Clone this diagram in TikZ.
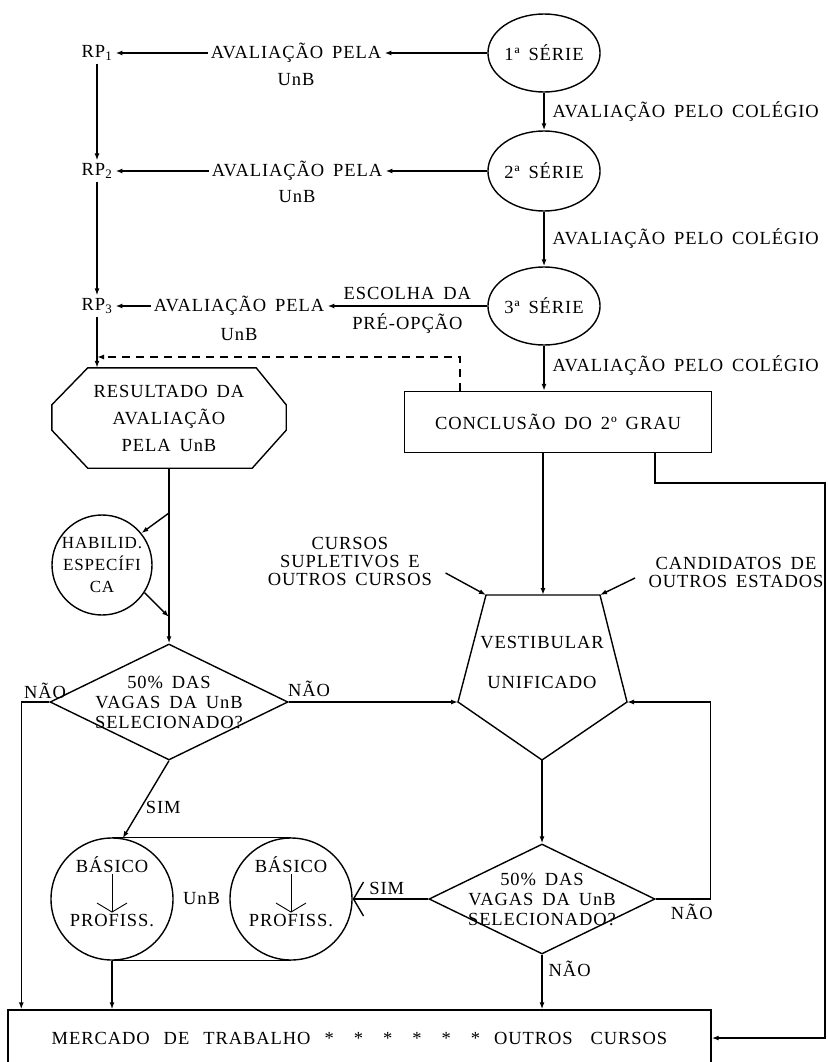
\documentclass[tikz,border=0pt]{standalone}
\usepackage{fontspec}
\setmainfont{Liberation Serif}[LetterSpace=5,WordSpace=1.6]
\usetikzlibrary{arrows.meta,positioning,calc,shapes.geometric}

\begin{document}
\begin{tikzpicture}[x=1pt,y=-1pt,
  every node/.style={font=\fontsize{18.5}{21}\selectfont},
  ed/.style={line width=1.4pt},
  arr/.style={ed,-{Latex[length=7pt,width=5pt]}},
  vee/.style={ed,-{Straight Barb[length=10pt,width=34pt]}},
  thinvee/.style={line width=0.9pt,-{Straight Barb[length=9pt,width=30pt]}},
  txt/.style={inner sep=3pt},
  lab/.style={inner sep=1pt},
  ser/.style={ellipse,draw,ed,minimum width=112pt,minimum height=78pt,inner sep=0pt},
  box/.style={rectangle,draw,ed,inner sep=0pt},
  oct/.style={rectangle,minimum width=234pt,minimum height=100pt,inner sep=0pt,
    align=center,font=\fontsize{18.5}{27}\selectfont},
  dia/.style={diamond,draw,ed,inner sep=0pt},
  circ/.style={circle,draw,ed,inner sep=0pt},
  ml/.style={align=center,font=\fontsize{18.5}{20}\selectfont}
]
\useasboundingbox (0,0) rectangle (827,1062);

% series and the UnB evaluation
\node[ser] (s1) at (544,53)  {1ª SÉRIE};
\node[ser,minimum width=110pt,minimum height=80pt] (s2) at (544,171) {2ª SÉRIE};
\node[ser] (s3) at (544,306) {3ª SÉRIE};
\node[txt] (rp1) at (97,53)  {RP\textsubscript{1}};
\node[txt] (rp2) at (97,171) {RP\textsubscript{2}};
\node[txt] (rp3) at (97,306) {RP\textsubscript{3}};
\node[txt] (av1) at (296,53)  {AVALIAÇÃO PELA};
\node[lab,below=6pt of av1] {UnB};
\node[txt] (av2) at (297,171) {AVALIAÇÃO PELA};
\node[lab,below=5pt of av2] {UnB};
\node[txt] (av3) at (239,306) {AVALIAÇÃO PELA};
\node[lab,below=8pt of av3] {UnB};
\draw[arr] (s1) -- (av1);
\draw[arr] (av1) -- (rp1);
\draw[arr] (s2) -- (av2);
\draw[arr] (av2) -- (rp2);
\draw[arr] (s3) -- node[lab,above=5pt]{ESCOLHA DA} node[lab,below=6pt]{PRÉ-OPÇÃO} (av3);
\draw[arr] (av3) -- (rp3);
\draw[arr] (rp1) -- (rp2);
\draw[arr] (rp2) -- (rp3);
\draw[arr] (s1) -- node[lab,right=7pt]{AVALIAÇÃO PELO COLÉGIO} (s2);
\draw[arr] (s2) -- node[lab,right=7pt]{AVALIAÇÃO PELO COLÉGIO} (s3);

% conclusion and result
\node[box,minimum width=307pt,minimum height=61pt] (conc) at (558,422) {CONCLUSÃO DO 2º GRAU};
\draw[arr] (s3) -- node[lab,right=7pt,yshift=3pt]{AVALIAÇÃO PELO COLÉGIO} (s3 |- conc.north);
\node[oct] (res) at (169,418) {RESULTADO DA\\AVALIAÇÃO\\PELA UnB};
\draw[ed] ($(res.north west)+(36,0)$) -- ($(res.north east)+(-30,0)$)
  -- ($(res.north east)+(0,37)$) -- ($(res.south east)+(0,-38)$)
  -- ($(res.south east)+(-34,0)$) -- ($(res.south west)+(36,0)$)
  -- ($(res.south west)+(0,-38)$) -- ($(res.north west)+(0,37)$) -- cycle;
\coordinate (dk) at (460,357);
\draw[arr,dash pattern=on 8pt off 6pt] (dk |- conc.north) -- (dk) -- (dk -| rp3);
\draw[arr] (rp3) -- (rp3 |- res.north);

% specific ability
\node[circ,minimum size=100pt,ml,font=\fontsize{17}{22}\selectfont] (hab) at (102,565) {HABILID.\\ESPECÍFI\\CA};
\coordinate (j1) at (169,513);
\coordinate (j2) at (169,617);
\node[dia,minimum width=238pt,minimum height=116pt] (d1) at (169,702) {};
\node[ml] at (d1) {50\% DAS\\VAGAS DA UnB\\SELECIONADO?};
\draw[arr] (res.south) -- (res.south |- d1.north);
\draw[arr] (j1) -- (hab.39);
\draw[arr] (hab.-33) -- (j2);

% vestibular
\coordinate (vtl) at (486,595);
\coordinate (vtr) at (600,595);
\coordinate (vr)  at (627,702);
\coordinate (vb)  at (542,760);
\coordinate (vl)  at (458,702);
\coordinate (vt)  at (543,595);
\draw[ed] (vtl) -- (vtr) -- (vr) -- (vb) -- (vl) -- cycle;
\node[ml,font=\fontsize{18.5}{40}\selectfont] at (542,662) {VESTIBULAR\\UNIFICADO};
\draw[arr] (conc.south -| vt) -- (vt);
\node[ml,font=\fontsize{18.5}{18}\selectfont] (cur) at (350,561) {CURSOS\\SUPLETIVOS E\\OUTROS CURSOS};
\node[ml,font=\fontsize{18.5}{18}\selectfont] (cand) at (736,572) {CANDIDATOS DE\\OUTROS ESTADOS};
\draw[arr] ([shift={(10,12)}]cur.east) -- (vtl);
\draw[arr] ([shift={(-10,6)}]cand.west) -- (vtr);
\draw[arr] (d1.east) -- node[lab,pos=0.12,above=4pt]{NÃO} (vl);

% UnB courses
\node[circ,minimum size=122pt] (b1) at (112,899) {};
\node[circ,minimum size=122pt] (b2) at (291,899) {};
\draw[ed] (b1.north) -- (b2.north);
\draw[ed] (b1.south) -- (b2.south);
\node[lab] at ($(b1)!0.5!(b2)$) {UnB};
\node[lab] (ba1) at ($(b1)+(0,-34)$) {BÁSICO};
\node[lab] (pr1) at ($(b1)+(0,21)$) {PROFISS.};
\node[lab] (ba2) at ($(b2)+(0,-34)$) {BÁSICO};
\node[lab] (pr2) at ($(b2)+(0,21)$) {PROFISS.};
\draw[thinvee] (ba1.south) -- (pr1.north);
\draw[thinvee] (ba2.south) -- (pr2.north);
\draw[arr] (d1.south) -- node[lab,pos=0.6,right=3pt]{SIM} (b1.80);

% second selection
\node[dia,minimum width=226pt,minimum height=110pt] (d2) at (542,899) {};
\node[ml] at (d2) {50\% DAS\\VAGAS DA UnB\\SELECIONADO?};
\draw[arr] (vb) -- (vb |- d2.north);
\draw[vee] (d2.west) -- node[lab,above=3pt,pos=0.55]{SIM} (b2.east);
\draw[arr] (d2.east) -- ++(55,0) |- (vr);
\node[lab,below right=4pt and 14pt of d2.east] {NÃO};

% labour market
\node[box,minimum width=703pt,minimum height=56pt] (merc) at (359.5,1038)
  {MERCADO\hspace{14pt}DE\hspace{14pt}TRABALHO\hspace{14pt}*\hspace{20pt}*\hspace{20pt}*\hspace{20pt}*\hspace{20pt}*\hspace{20pt}*\hspace{14pt}OUTROS\hspace{18pt}CURSOS};
\draw[arr] (d1.west) -| ([xshift=14pt]merc.north west);
\node[lab,above left=2pt and -18pt of d1.west] {NÃO};
\draw[arr] (b1.south) -- (b1.south |- merc.north);
\draw[arr] (d2.south) -- node[lab,right=5pt,pos=0.25]{NÃO} (d2.south |- merc.north);
\coordinate (rc) at (825,483);
\draw[arr] ([xshift=97pt]conc.south) |- (rc) |- (merc.east);
\end{tikzpicture}
\end{document}
